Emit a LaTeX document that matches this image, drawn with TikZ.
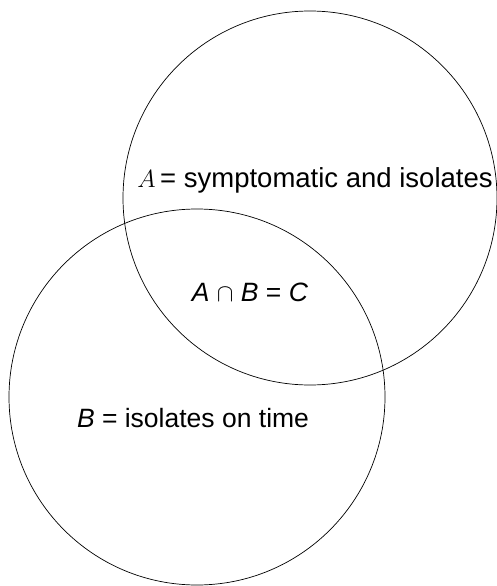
\documentclass[tikz,border=0pt]{standalone}
\usepackage{fontspec}
\setmainfont{Liberation Sans}
\usetikzlibrary{positioning}
\tikzset{
  setline/.style={line width=0.7pt},
  setlabel/.style={font=\fontsize{26.5}{30}\selectfont, inner sep=0pt}
}

\begin{document}
\begin{tikzpicture}[x=1pt, y=-1pt]

            \useasboundingbox (0,0) rectangle (497,586);

            % Menge A oben rechts
            \draw[setline] (310,198) circle[radius=187pt];

            % Menge B unten links
            \draw[setline] (197,397) circle[radius=188pt];

            % Beschriftungen
            \node[setlabel, font=\fontsize{27.5}{30}\selectfont] (labelA) at (315,180) {$A$\,= symptomatic and isolates};
            \node[setlabel] (labelC) at (250,292) {\textit{A} $\cap$ \textit{B} = \textit{C}};
            \node[setlabel] (labelB) at (193,418) {\textit{B} = isolates on time};

         \end{tikzpicture}
\end{document}
